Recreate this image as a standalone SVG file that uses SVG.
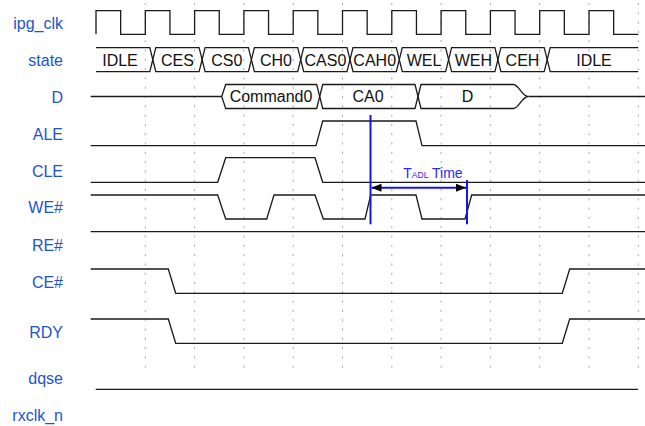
<svg xmlns="http://www.w3.org/2000/svg" width="645" height="426" viewBox="0 0 645 426">
<style>
.lbl{font-family:"Liberation Sans",Arial,sans-serif;font-size:16px;fill:#1b55cf;text-anchor:end}
.bt{font-family:"Liberation Sans",Arial,sans-serif;font-size:16px;fill:#111;text-anchor:middle}
.wave{fill:none;stroke:#1a1a1a;stroke-width:1.3;stroke-linejoin:miter}
.bus{fill:#fff;stroke:#1a1a1a;stroke-width:1.3}
.grid{stroke:#a8a8a8;stroke-width:1;stroke-dasharray:2 7.3}
.blue{stroke:#1414f0;stroke-width:2;fill:none}
</style>
<defs>
<marker id="ah" viewBox="0 0 10 8" refX="10" refY="4" markerWidth="10" markerHeight="8" markerUnits="userSpaceOnUse" orient="auto-start-reverse">
<path d="M0,0 L10,4 L0,8 Z" fill="#000"/>
</marker>
</defs>
<rect width="645" height="426" fill="#fff"/>
<g id="grid">
<line class="grid" x1="145.3" y1="3" x2="145.3" y2="371"/>
<line class="grid" x1="194.6" y1="3" x2="194.6" y2="371"/>
<line class="grid" x1="243.9" y1="3" x2="243.9" y2="371"/>
<line class="grid" x1="293.2" y1="3" x2="293.2" y2="371"/>
<line class="grid" x1="342.5" y1="3" x2="342.5" y2="371"/>
<line class="grid" x1="391.8" y1="3" x2="391.8" y2="371"/>
<line class="grid" x1="441.1" y1="3" x2="441.1" y2="371"/>
<line class="grid" x1="490.4" y1="3" x2="490.4" y2="371"/>
<line class="grid" x1="539.7" y1="3" x2="539.7" y2="371"/>
<line class="grid" x1="589" y1="3" x2="589" y2="371"/>
<line class="grid" x1="638.3" y1="3" x2="638.3" y2="371"/>
</g>
<g id="ipg_clk">
<text class="lbl" x="63" y="29.3">ipg_clk</text>
<path class="wave" d="M96,34.3 V10.7 H120.65 V34.3 H145.3 V10.7 H169.95 V34.3 H194.6 V10.7 H219.25 V34.3 H243.9 V10.7 H268.55 V34.3 H293.2 V10.7 H317.85 V34.3 H342.5 V10.7 H367.15 V34.3 H391.8 V10.7 H416.45 V34.3 H441.1 V10.7 H465.75 V34.3 H490.4 V10.7 H515.05 V34.3 H539.7 V10.7 H564.35 V34.3 H589 V10.7 H613.65 V34.3 H638.3"/>
</g>
<g id="state">
<text class="lbl" x="63" y="66.3">state</text>
<path class="wave" d="M96,47.7 H149.8 L152.8,59.7 L149.8,71.7 H96"/>
<path class="wave" d="M152.8,59.7 L155.8,47.7 H199.1 L202.1,59.7 L199.1,71.7 H155.8 Z"/>
<path class="wave" d="M202.1,59.7 L205.1,47.7 H248.4 L251.4,59.7 L248.4,71.7 H205.1 Z"/>
<path class="wave" d="M251.4,59.7 L254.4,47.7 H297.7 L300.7,59.7 L297.7,71.7 H254.4 Z"/>
<path class="wave" d="M300.7,59.7 L303.7,47.7 H347 L350,59.7 L347,71.7 H303.7 Z"/>
<path class="wave" d="M350,59.7 L353,47.7 H396.3 L399.3,59.7 L396.3,71.7 H353 Z"/>
<path class="wave" d="M399.3,59.7 L402.3,47.7 H445.6 L448.6,59.7 L445.6,71.7 H402.3 Z"/>
<path class="wave" d="M448.6,59.7 L451.6,47.7 H494.9 L497.9,59.7 L494.9,71.7 H451.6 Z"/>
<path class="wave" d="M497.9,59.7 L500.9,47.7 H544.2 L547.2,59.7 L544.2,71.7 H500.9 Z"/>
<path class="wave" d="M638.3,47.7 H550.2 L547.2,59.7 L550.2,71.7 H638.3"/>
<text class="bt" x="120" y="66.3">IDLE</text>
<text class="bt" x="177.5" y="66.3">CES</text>
<text class="bt" x="226.8" y="66.3">CS0</text>
<text class="bt" x="276" y="66.3">CH0</text>
<text class="bt" x="325.4" y="66.3">CAS0</text>
<text class="bt" x="374.7" y="66.3">CAH0</text>
<text class="bt" x="424" y="66.3">WEL</text>
<text class="bt" x="473.3" y="66.3">WEH</text>
<text class="bt" x="522.5" y="66.3">CEH</text>
<text class="bt" x="594" y="66.3">IDLE</text>
</g>
<g id="D">
<text class="lbl" x="63" y="103.3">D</text>
<path class="wave" d="M90.7,96.5 H221.7"/>
<path class="wave" d="M221.7,96.5 L225.7,84.5 H316.7 L319.7,96.5 L316.7,108.5 H225.7 Z"/>
<path class="wave" d="M319.7,96.5 L322.7,84.5 H415 L418,96.5 L415,108.5 H322.7 Z"/>
<path class="wave" d="M418,96.5 L421,84.5 H513.3 C519,84.5 522,96.5 528.3,96.5 C522,96.5 519,108.5 513.3,108.5 H421 Z"/>
<path class="wave" d="M528.3,96.5 H645"/>
<text class="bt" x="271" y="102.3">Command0</text>
<text class="bt" x="368" y="102.3">CA0</text>
<text class="bt" x="467.5" y="102.3">D</text>
</g>
<g id="ALE">
<text class="lbl" x="63" y="140">ALE</text>
<path class="wave" d="M90.7,145.7 H316 L322.7,121 H416 L422,145.7 H645"/>
</g>
<g id="CLE">
<text class="lbl" x="63" y="176.7">CLE</text>
<path class="wave" d="M90.7,182.3 H217.7 L225.7,157.7 H315 L322.7,182.3 H645"/>
</g>
<g id="WE">
<text class="lbl" x="63" y="213.3">WE#</text>
<path class="wave" d="M90.7,195 H217.7 L225.7,219 H266.7 L274,195 H315 L323.3,219 H365 L370.7,195 H416 L422,219 H465 L471.7,195 H645"/>
</g>
<g id="RE">
<text class="lbl" x="63" y="250.7">RE#</text>
<path class="wave" d="M90.7,231.7 H645"/>
</g>
<g id="CE">
<text class="lbl" x="63" y="287.7">CE#</text>
<path class="wave" d="M90.7,269 H168.3 L175.7,293.3 H562.3 L569.7,269 H645"/>
</g>
<g id="RDY">
<text class="lbl" x="63" y="338.3">RDY</text>
<path class="wave" d="M90.7,319 H168.3 L175.7,343.3 H562.3 L569.7,319 H645"/>
</g>
<g id="dqse">
<text class="lbl" x="63" y="384">dqse</text>
<path class="wave" d="M95.7,389.3 H638"/>
</g>
<g id="rxclk_n">
<text class="lbl" x="63" y="421">rxclk_n</text>
</g>
<g id="connectors">
<line class="blue" x1="370.5" y1="115" x2="370.5" y2="224.3"/>
<line class="blue" x1="467" y1="180" x2="467" y2="224.3"/>
<line class="blue" x1="371.5" y1="187.7" x2="466" y2="187.7" marker-start="url(#ah)" marker-end="url(#ah)"/>
<text x="403.3" y="178.3" font-family="'Liberation Sans',Arial,sans-serif" font-size="14" fill="#2a2ae8">T<tspan font-size="8.5">ADL</tspan> Time</text>
</g>
</svg>
